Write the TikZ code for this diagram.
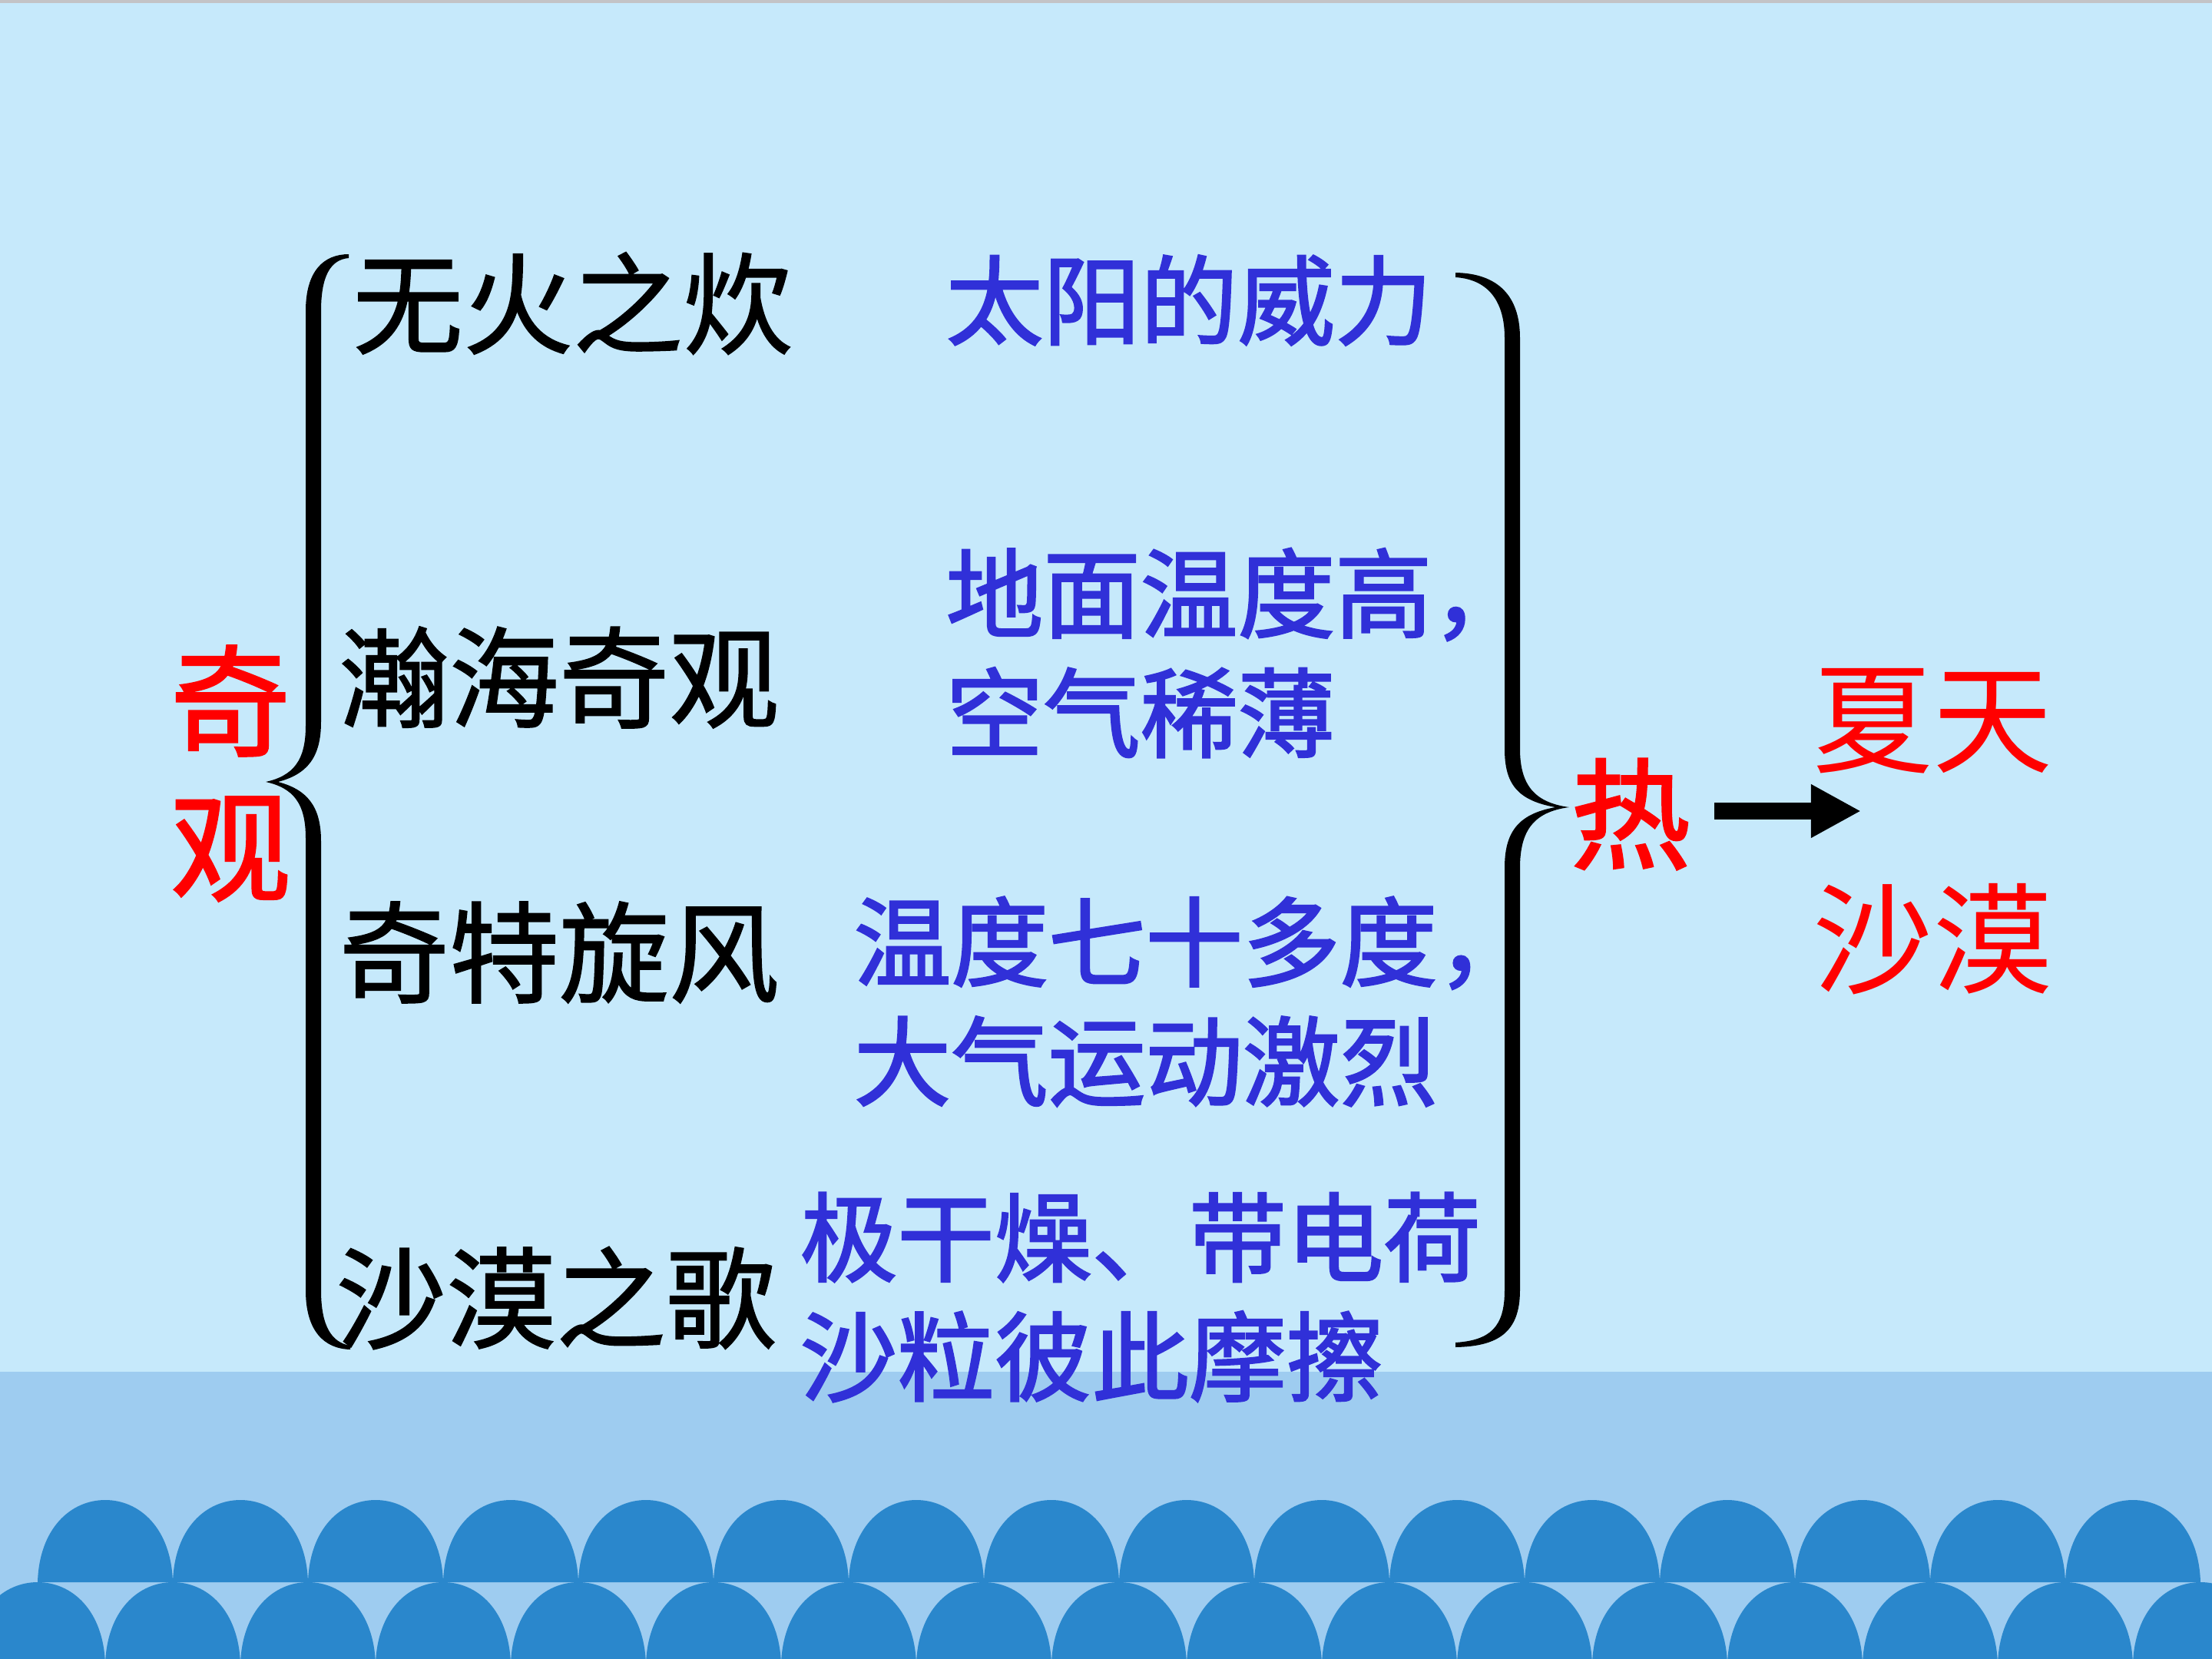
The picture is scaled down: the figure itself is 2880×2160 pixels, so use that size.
\documentclass[tikz,border=0pt]{standalone}
\usepackage{fontspec}
\newfontfamily\cjk{Noto Sans CJK SC}
\newfontfamily\cjkblack{Noto Sans CJK SC}[FakeBold=1.3]
\newfontfamily\cjkblue{Noto Sans CJK SC}[FakeBold=2]
\newfontfamily\cjkred{Noto Sans CJK SC}[FakeBold=1.8]
\usetikzlibrary{arrows.meta}
\definecolor{skybg}{RGB}{198,233,251}
\definecolor{bandbg}{RGB}{158,204,240}
\definecolor{wave}{RGB}{42,135,204}
\definecolor{topline}{RGB}{195,195,198}
\definecolor{bluetxt}{RGB}{48,48,216}
\definecolor{redtxt}{RGB}{255,0,0}
\begin{document}
\begin{tikzpicture}[x=0.01cm,y=-0.01cm,
  blacktxt/.style={inner sep=0pt,anchor=west,font=\cjkblack\fontsize{40.7}{48}\selectfont,text=black},
  bluetext/.style={inner sep=0pt,anchor=west,align=left,font=\cjkblue\fontsize{36}{44.2}\selectfont,text=bluetxt},
  redtext/.style={inner sep=0pt,align=center,text=redtxt},
  braceshape/.style={fill=black},
  bigarrow/.style={line width=6.3pt,-{Triangle[length=18.5pt,width=18.5pt]}},
]
\useasboundingbox (0,0) rectangle (2880,2160);
% background
\fill[skybg] (0,0) rectangle (2880,2160);
\fill[topline] (0,0) rectangle (2880,4);
\fill[bandbg] (0,1786) rectangle (2880,2160);
% waves, top row
\foreach \k in {0,...,15}{
  \pgfmathsetmacro{\c}{137+176*\k}
  \fill[wave] ({\c-88},2060) .. controls ({\c-86},1990) and ({\c-45},1953) .. (\c,1953)
     .. controls ({\c+45},1953) and ({\c+86},1990) .. ({\c+88},2060) -- cycle;
}
% waves, bottom row
\foreach \k in {0,...,16}{
  \pgfmathsetmacro{\c}{49+176*\k}
  \fill[wave] ({\c-88},2167) .. controls ({\c-86},2097) and ({\c-45},2060) .. (\c,2060)
     .. controls ({\c+45},2060) and ({\c+86},2097) .. ({\c+88},2167) -- cycle;
}
% left brace
\fill[braceshape] (454,331) .. controls (422,331) and (398,352) .. (398,405) -- (398,945)
  .. controls (398,990) and (382,1010) .. (346,1018)
  .. controls (382,1026) and (398,1046) .. (398,1091) -- (398,1680)
  .. controls (398,1733) and (422,1756) .. (456,1757) -- (456,1752)
  .. controls (432,1748) and (418,1727) .. (418,1680) -- (418,1095)
  .. controls (418,1050) and (400,1028) .. (362,1018)
  .. controls (400,1008) and (418,986) .. (418,940) -- (418,405)
  .. controls (418,360) and (430,338) .. (454,336) -- cycle;
% right brace
\fill[braceshape] (1895,355) .. controls (1950,356) and (1979,385) .. (1979,440) -- (1979,975)
  .. controls (1979,1022) and (1998,1045) .. (2043,1051)
  .. controls (1998,1057) and (1979,1080) .. (1979,1130) -- (1979,1680)
  .. controls (1979,1735) and (1950,1753) .. (1895,1754) -- (1895,1748)
  .. controls (1940,1745) and (1959,1728) .. (1959,1680) -- (1959,1130)
  .. controls (1959,1085) and (1975,1060) .. (2025,1051)
  .. controls (1975,1042) and (1959,1020) .. (1959,975) -- (1959,440)
  .. controls (1959,395) and (1940,364) .. (1895,361) -- cycle;
% left label
\node[redtext,font=\cjkred\fontsize{44.4}{53.8}\selectfont] (qiguan) at (300,1007) {奇\\观};
% black items
\node[blacktxt] (t1) at (459,395) {无火之炊};
\node[blacktxt] (t2) at (441,882) {瀚海奇观};
\node[blacktxt] (t3) at (441,1240) {奇特旋风};
\node[blacktxt] (t4) at (437,1690) {沙漠之歌};
% blue explanations
\node[bluetext] (b1) at (1231,391) {太阳的威力};
\node[bluetext] (b2) at (1231,850) {地面温度高，\\空气稀薄};
\node[bluetext] (b3) at (1111,1304) {温度七十多度，\\大气运动激烈};
\node[bluetext] (b4) at (1041,1689) {极干燥、带电荷\\沙粒彼此摩擦};
% right side
\node[redtext,font=\cjkred\fontsize{44.4}{53}\selectfont] (re) at (2123,1060) {热};
\coordinate (arrS) at (2232,1056);
\coordinate (arrE) at (2423,1056);
\draw[bigarrow] (arrS) -- (arrE);
\node[redtext,anchor=west,font=\cjk\fontsize{44.4}{81.7}\selectfont] (desert) at (2360,1083) {夏天\\沙漠};
\end{tikzpicture}
\end{document}
